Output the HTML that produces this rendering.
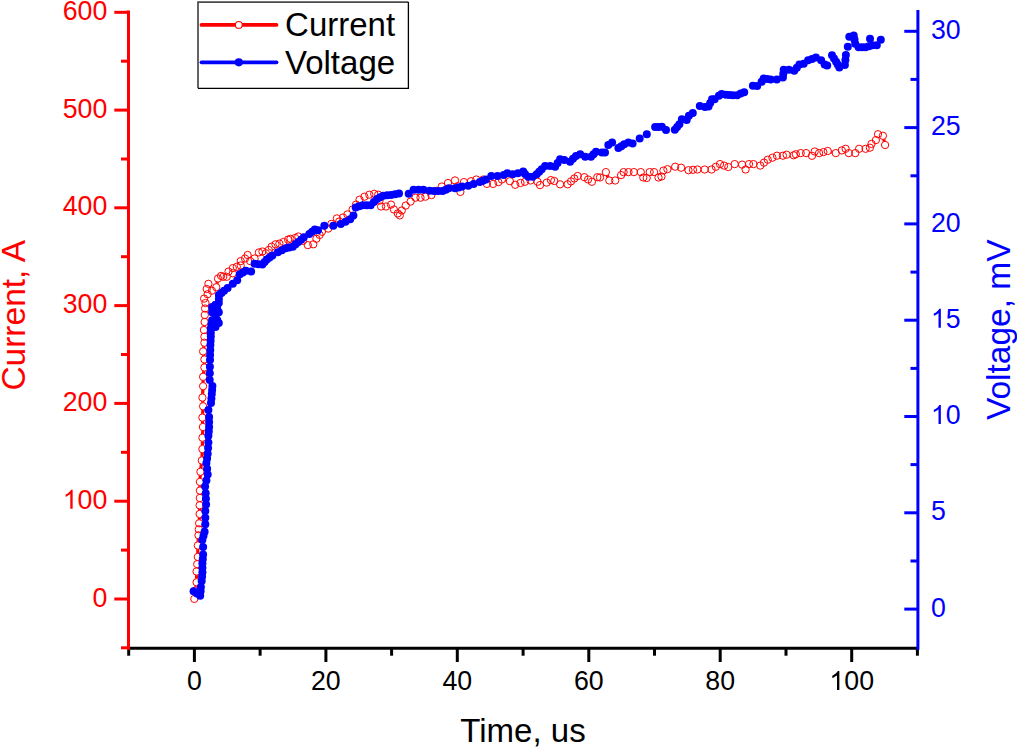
<!DOCTYPE html>
<html><head><meta charset="utf-8"><style>
html,body{margin:0;padding:0;background:#fff;}
body{width:1017px;height:747px;overflow:hidden;}
svg{display:block;font-family:"Liberation Sans",sans-serif;}
</style></head><body>
<svg width="1017" height="747" viewBox="0 0 1017 747">
<rect width="1017" height="747" fill="#fff"/>
<defs><mask id="rm" maskUnits="userSpaceOnUse" x="0" y="0" width="1017" height="747"><rect width="1017" height="747" fill="#fff"/><g fill="#000"><circle cx="194.3" cy="598.9" r="3.75"/><circle cx="195.4" cy="590.6" r="3.75"/><circle cx="196.6" cy="582.3" r="3.75"/><circle cx="196.6" cy="571.5" r="3.75"/><circle cx="197.2" cy="564.2" r="3.75"/><circle cx="197.8" cy="556.9" r="3.75"/><circle cx="197.8" cy="545.5" r="3.75"/><circle cx="198.5" cy="535.3" r="3.75"/><circle cx="198.8" cy="529.3" r="3.75"/><circle cx="199.1" cy="523.3" r="3.75"/><circle cx="199.6" cy="514" r="3.75"/><circle cx="199.6" cy="505.3" r="3.75"/><circle cx="199.8" cy="498" r="3.75"/><circle cx="199.9" cy="490.6" r="3.75"/><circle cx="199.9" cy="481.9" r="3.75"/><circle cx="200.4" cy="471.8" r="3.75"/><circle cx="201.8" cy="460.5" r="3.75"/><circle cx="202.4" cy="449.1" r="3.75"/><circle cx="202.4" cy="437.7" r="3.75"/><circle cx="202.9" cy="427" r="3.75"/><circle cx="202.4" cy="417.6" r="3.75"/><circle cx="203.1" cy="406.3" r="3.75"/><circle cx="202.4" cy="397.6" r="3.75"/><circle cx="203.1" cy="386.2" r="3.75"/><circle cx="203.1" cy="376.8" r="3.75"/><circle cx="204.4" cy="367.5" r="3.75"/><circle cx="204.4" cy="359.4" r="3.75"/><circle cx="203.1" cy="351.4" r="3.75"/><circle cx="204.4" cy="342.7" r="3.75"/><circle cx="204.4" cy="336.7" r="3.75"/><circle cx="203.9" cy="330" r="3.75"/><circle cx="204.6" cy="322" r="3.75"/><circle cx="204.8" cy="315" r="3.75"/><circle cx="205.1" cy="308.5" r="3.75"/><circle cx="205.5" cy="303" r="3.75"/><circle cx="204.1" cy="298.6" r="3.75"/><circle cx="207.6" cy="294.2" r="3.75"/><circle cx="206.7" cy="289" r="3.75"/><circle cx="208.4" cy="283.8" r="3.75"/><circle cx="211.9" cy="290.7" r="3.75"/><circle cx="216.3" cy="287.2" r="3.75"/><circle cx="218" cy="278.5" r="3.75"/><circle cx="221.1" cy="275.9" r="3.75"/><circle cx="223.2" cy="276.8" r="3.75"/><circle cx="226.7" cy="276.8" r="3.75"/><circle cx="228.5" cy="271.6" r="3.75"/><circle cx="232.8" cy="273.3" r="3.75"/><circle cx="232.8" cy="268.1" r="3.75"/><circle cx="236.8" cy="266.8" r="3.75"/><circle cx="240.7" cy="265.5" r="3.75"/><circle cx="240.7" cy="261.1" r="3.75"/><circle cx="245" cy="258.5" r="3.75"/><circle cx="247.6" cy="255" r="3.75"/><circle cx="250.2" cy="261.1" r="3.75"/><circle cx="254.6" cy="258.5" r="3.75"/><circle cx="258.9" cy="252.4" r="3.75"/><circle cx="262.4" cy="251.5" r="3.75"/><circle cx="265.9" cy="253.3" r="3.75"/><circle cx="268.8" cy="250" r="3.75"/><circle cx="271.6" cy="246.7" r="3.75"/><circle cx="275.5" cy="244.3" r="3.75"/><circle cx="279.4" cy="243.6" r="3.75"/><circle cx="283.4" cy="242" r="3.75"/><circle cx="288.1" cy="239.6" r="3.75"/><circle cx="290.5" cy="238.8" r="3.75"/><circle cx="295.2" cy="238" r="3.75"/><circle cx="298.3" cy="236.5" r="3.75"/><circle cx="303" cy="240.8" r="3.75"/><circle cx="307.8" cy="245.1" r="3.75"/><circle cx="313.3" cy="244.3" r="3.75"/><circle cx="316.4" cy="238.8" r="3.75"/><circle cx="319.6" cy="234.9" r="3.75"/><circle cx="321.9" cy="231.8" r="3.75"/><circle cx="328.2" cy="228.6" r="3.75"/><circle cx="331.4" cy="223.9" r="3.75"/><circle cx="336.9" cy="218.4" r="3.75"/><circle cx="339.2" cy="221.5" r="3.75"/><circle cx="343" cy="217.5" r="3.75"/><circle cx="347.4" cy="214.4" r="3.75"/><circle cx="352.6" cy="209.5" r="3.75"/><circle cx="356" cy="204.6" r="3.75"/><circle cx="359.5" cy="199.7" r="3.75"/><circle cx="364.4" cy="196.7" r="3.75"/><circle cx="369.3" cy="194.7" r="3.75"/><circle cx="374.2" cy="193.8" r="3.75"/><circle cx="378.2" cy="194.7" r="3.75"/><circle cx="379.6" cy="200.6" r="3.75"/><circle cx="381.1" cy="206.5" r="3.75"/><circle cx="386" cy="206.5" r="3.75"/><circle cx="391" cy="204.6" r="3.75"/><circle cx="393.9" cy="209.5" r="3.75"/><circle cx="397.8" cy="213.4" r="3.75"/><circle cx="399.8" cy="215.4" r="3.75"/><circle cx="401.8" cy="210.5" r="3.75"/><circle cx="405.7" cy="205.6" r="3.75"/><circle cx="410.6" cy="201.6" r="3.75"/><circle cx="415.5" cy="197.7" r="3.75"/><circle cx="420.5" cy="197.7" r="3.75"/><circle cx="425.4" cy="196.7" r="3.75"/><circle cx="431.4" cy="195.1" r="3.75"/><circle cx="436.5" cy="190.8" r="3.75"/><circle cx="441.8" cy="186.5" r="3.75"/><circle cx="448" cy="183" r="3.75"/><circle cx="455" cy="180.4" r="3.75"/><circle cx="457.7" cy="186.2" r="3.75"/><circle cx="460.4" cy="191.9" r="3.75"/><circle cx="463.9" cy="182.1" r="3.75"/><circle cx="471" cy="181.2" r="3.75"/><circle cx="476.3" cy="179.5" r="3.75"/><circle cx="483.4" cy="179.5" r="3.75"/><circle cx="486.9" cy="183.9" r="3.75"/><circle cx="493.1" cy="183.9" r="3.75"/><circle cx="498.4" cy="182.1" r="3.75"/><circle cx="501.9" cy="179.5" r="3.75"/><circle cx="509.9" cy="181.2" r="3.75"/><circle cx="515.2" cy="184.8" r="3.75"/><circle cx="520.5" cy="183" r="3.75"/><circle cx="525" cy="181.8" r="3.75"/><circle cx="530.5" cy="180.5" r="3.75"/><circle cx="537.5" cy="181.8" r="3.75"/><circle cx="540" cy="185.1" r="3.75"/><circle cx="546.7" cy="182.6" r="3.75"/><circle cx="550.9" cy="180.1" r="3.75"/><circle cx="554.3" cy="181" r="3.75"/><circle cx="560.1" cy="184.3" r="3.75"/><circle cx="567.6" cy="184.3" r="3.75"/><circle cx="571" cy="181.4" r="3.75"/><circle cx="574.3" cy="178.5" r="3.75"/><circle cx="577.7" cy="176" r="3.75"/><circle cx="584.3" cy="177.2" r="3.75"/><circle cx="588.1" cy="179.5" r="3.75"/><circle cx="591.9" cy="181.8" r="3.75"/><circle cx="597.3" cy="177.2" r="3.75"/><circle cx="600" cy="177.5" r="3.75"/><circle cx="605.9" cy="172.1" r="3.75"/><circle cx="609.3" cy="180.5" r="3.75"/><circle cx="615.2" cy="180.5" r="3.75"/><circle cx="621.1" cy="175.1" r="3.75"/><circle cx="623.6" cy="172.1" r="3.75"/><circle cx="628.5" cy="172.1" r="3.75"/><circle cx="633.9" cy="172.1" r="3.75"/><circle cx="640.8" cy="172.1" r="3.75"/><circle cx="643.3" cy="177.5" r="3.75"/><circle cx="646.7" cy="178" r="3.75"/><circle cx="649.7" cy="172.1" r="3.75"/><circle cx="654.1" cy="172.1" r="3.75"/><circle cx="658.5" cy="177.5" r="3.75"/><circle cx="661.5" cy="176.5" r="3.75"/><circle cx="663.4" cy="170.6" r="3.75"/><circle cx="667.4" cy="169.2" r="3.75"/><circle cx="675.2" cy="166.7" r="3.75"/><circle cx="681.1" cy="167.7" r="3.75"/><circle cx="688.5" cy="170.2" r="3.75"/><circle cx="693" cy="169.8" r="3.75"/><circle cx="697.4" cy="169.5" r="3.75"/><circle cx="704.7" cy="169.5" r="3.75"/><circle cx="711.6" cy="169.5" r="3.75"/><circle cx="715.8" cy="166.8" r="3.75"/><circle cx="720" cy="164.1" r="3.75"/><circle cx="724.1" cy="165.6" r="3.75"/><circle cx="728.3" cy="167" r="3.75"/><circle cx="734.7" cy="164.1" r="3.75"/><circle cx="742.1" cy="164.6" r="3.75"/><circle cx="745.6" cy="169.5" r="3.75"/><circle cx="749" cy="164.1" r="3.75"/><circle cx="753.4" cy="164.1" r="3.75"/><circle cx="760.3" cy="165.6" r="3.75"/><circle cx="764" cy="162.6" r="3.75"/><circle cx="767.7" cy="159.7" r="3.75"/><circle cx="772.4" cy="157.7" r="3.75"/><circle cx="777" cy="155.7" r="3.75"/><circle cx="782.9" cy="155.7" r="3.75"/><circle cx="786.6" cy="154.7" r="3.75"/><circle cx="793.7" cy="155.3" r="3.75"/><circle cx="795.8" cy="154.2" r="3.75"/><circle cx="800.7" cy="153.1" r="3.75"/><circle cx="806.1" cy="153.1" r="3.75"/><circle cx="812" cy="155.8" r="3.75"/><circle cx="814.7" cy="151.5" r="3.75"/><circle cx="819.1" cy="153.1" r="3.75"/><circle cx="823.4" cy="152.1" r="3.75"/><circle cx="827.7" cy="151" r="3.75"/><circle cx="835.8" cy="153.1" r="3.75"/><circle cx="841.8" cy="150.4" r="3.75"/><circle cx="845.6" cy="148.8" r="3.75"/><circle cx="848.8" cy="153.1" r="3.75"/><circle cx="855.3" cy="153.1" r="3.75"/><circle cx="859.1" cy="148.8" r="3.75"/><circle cx="865.6" cy="148.8" r="3.75"/><circle cx="869.9" cy="147.7" r="3.75"/><circle cx="871.5" cy="143.9" r="3.75"/><circle cx="875.9" cy="140.1" r="3.75"/><circle cx="878" cy="134.2" r="3.75"/><circle cx="882.9" cy="135.8" r="3.75"/><circle cx="885.1" cy="145" r="3.75"/></g></mask></defs>
<g fill="none" stroke="#ff0000" stroke-width="3.2" stroke-linejoin="round" mask="url(#rm)"><path d="M194.3 598.9 L196.6 582.3 L196.6 571.5 L197.8 556.9 L197.8 545.5 L198.5 535.3 L199.1 523.3 L199.6 514 L199.6 505.3 L199.9 490.6 L199.9 481.9 L200.4 471.8 L201.8 460.5 L202.4 449.1 L202.4 437.7 L202.9 427 L202.4 417.6 L203.1 406.3 L202.4 397.6 L203.1 386.2 L203.1 376.8 L204.4 367.5 L204.4 359.4 L203.1 351.4 L204.4 342.7 L204.4 336.7 L203.9 330 L204.6 322 L204.8 315 L205.1 308.5 L205.5 303 L204.1 298.6 L207.6 294.2 L206.7 289 L208.4 283.8 L211.9 290.7 L216.3 287.2 L218 278.5 L221.1 275.9 L223.2 276.8 L226.7 276.8 L228.5 271.6 L232.8 273.3 L232.8 268.1 L236.8 266.8 L240.7 265.5 L240.7 261.1 L245 258.5 L247.6 255 L250.2 261.1 L254.6 258.5 L258.9 252.4 L262.4 251.5 L265.9 253.3 L271.6 246.7 L275.5 244.3 L279.4 243.6 L283.4 242 L288.1 239.6 L290.5 238.8 L295.2 238 L298.3 236.5 L303 240.8 L307.8 245.1 L313.3 244.3 L316.4 238.8 L319.6 234.9 L321.9 231.8 L328.2 228.6 L331.4 223.9 L336.9 218.4 L339.2 221.5 L343 217.5 L347.4 214.4 L352.6 209.5 L356 204.6 L359.5 199.7 L364.4 196.7 L369.3 194.7 L374.2 193.8 L378.2 194.7 L381.1 206.5 L386 206.5 L391 204.6 L393.9 209.5 L397.8 213.4 L399.8 215.4 L401.8 210.5 L405.7 205.6 L410.6 201.6 L415.5 197.7 L420.5 197.7 L425.4 196.7 L431.4 195.1 L436.5 190.8 L441.8 186.5 L448 183 L455 180.4 L460.4 191.9 L463.9 182.1 L471 181.2 L476.3 179.5 L483.4 179.5 L486.9 183.9 L493.1 183.9 L498.4 182.1 L501.9 179.5 L509.9 181.2 L515.2 184.8 L520.5 183 L525 181.8 L530.5 180.5 L537.5 181.8 L540 185.1 L546.7 182.6 L550.9 180.1 L554.3 181 L560.1 184.3 L567.6 184.3 L574.3 178.5 L577.7 176 L584.3 177.2 L591.9 181.8 L597.3 177.2 L600 177.5 L605.9 172.1 L609.3 180.5 L615.2 180.5 L621.1 175.1 L623.6 172.1 L628.5 172.1 L633.9 172.1 L640.8 172.1 L643.3 177.5 L646.7 178 L649.7 172.1 L654.1 172.1 L658.5 177.5 L661.5 176.5 L663.4 170.6 L667.4 169.2 L675.2 166.7 L681.1 167.7 L688.5 170.2 L697.4 169.5 L704.7 169.5 L711.6 169.5 L720 164.1 L728.3 167 L734.7 164.1 L742.1 164.6 L745.6 169.5 L749 164.1 L753.4 164.1 L760.3 165.6 L767.7 159.7 L777 155.7 L782.9 155.7 L786.6 154.7 L793.7 155.3 L795.8 154.2 L800.7 153.1 L806.1 153.1 L812 155.8 L814.7 151.5 L819.1 153.1 L827.7 151 L835.8 153.1 L841.8 150.4 L845.6 148.8 L848.8 153.1 L855.3 153.1 L859.1 148.8 L865.6 148.8 L869.9 147.7 L871.5 143.9 L875.9 140.1 L878 134.2 L882.9 135.8 L885.1 145"/></g>
<g fill="none" stroke="#ff0000" stroke-width="1"><circle cx="194.3" cy="598.9" r="3.65"/><circle cx="195.4" cy="590.6" r="3.65"/><circle cx="196.6" cy="582.3" r="3.65"/><circle cx="196.6" cy="571.5" r="3.65"/><circle cx="197.2" cy="564.2" r="3.65"/><circle cx="197.8" cy="556.9" r="3.65"/><circle cx="197.8" cy="545.5" r="3.65"/><circle cx="198.5" cy="535.3" r="3.65"/><circle cx="198.8" cy="529.3" r="3.65"/><circle cx="199.1" cy="523.3" r="3.65"/><circle cx="199.6" cy="514" r="3.65"/><circle cx="199.6" cy="505.3" r="3.65"/><circle cx="199.8" cy="498" r="3.65"/><circle cx="199.9" cy="490.6" r="3.65"/><circle cx="199.9" cy="481.9" r="3.65"/><circle cx="200.4" cy="471.8" r="3.65"/><circle cx="201.8" cy="460.5" r="3.65"/><circle cx="202.4" cy="449.1" r="3.65"/><circle cx="202.4" cy="437.7" r="3.65"/><circle cx="202.9" cy="427" r="3.65"/><circle cx="202.4" cy="417.6" r="3.65"/><circle cx="203.1" cy="406.3" r="3.65"/><circle cx="202.4" cy="397.6" r="3.65"/><circle cx="203.1" cy="386.2" r="3.65"/><circle cx="203.1" cy="376.8" r="3.65"/><circle cx="204.4" cy="367.5" r="3.65"/><circle cx="204.4" cy="359.4" r="3.65"/><circle cx="203.1" cy="351.4" r="3.65"/><circle cx="204.4" cy="342.7" r="3.65"/><circle cx="204.4" cy="336.7" r="3.65"/><circle cx="203.9" cy="330" r="3.65"/><circle cx="204.6" cy="322" r="3.65"/><circle cx="204.8" cy="315" r="3.65"/><circle cx="205.1" cy="308.5" r="3.65"/><circle cx="205.5" cy="303" r="3.65"/><circle cx="204.1" cy="298.6" r="3.65"/><circle cx="207.6" cy="294.2" r="3.65"/><circle cx="206.7" cy="289" r="3.65"/><circle cx="208.4" cy="283.8" r="3.65"/><circle cx="211.9" cy="290.7" r="3.65"/><circle cx="216.3" cy="287.2" r="3.65"/><circle cx="218" cy="278.5" r="3.65"/><circle cx="221.1" cy="275.9" r="3.65"/><circle cx="223.2" cy="276.8" r="3.65"/><circle cx="226.7" cy="276.8" r="3.65"/><circle cx="228.5" cy="271.6" r="3.65"/><circle cx="232.8" cy="273.3" r="3.65"/><circle cx="232.8" cy="268.1" r="3.65"/><circle cx="236.8" cy="266.8" r="3.65"/><circle cx="240.7" cy="265.5" r="3.65"/><circle cx="240.7" cy="261.1" r="3.65"/><circle cx="245" cy="258.5" r="3.65"/><circle cx="247.6" cy="255" r="3.65"/><circle cx="250.2" cy="261.1" r="3.65"/><circle cx="254.6" cy="258.5" r="3.65"/><circle cx="258.9" cy="252.4" r="3.65"/><circle cx="262.4" cy="251.5" r="3.65"/><circle cx="265.9" cy="253.3" r="3.65"/><circle cx="268.8" cy="250" r="3.65"/><circle cx="271.6" cy="246.7" r="3.65"/><circle cx="275.5" cy="244.3" r="3.65"/><circle cx="279.4" cy="243.6" r="3.65"/><circle cx="283.4" cy="242" r="3.65"/><circle cx="288.1" cy="239.6" r="3.65"/><circle cx="290.5" cy="238.8" r="3.65"/><circle cx="295.2" cy="238" r="3.65"/><circle cx="298.3" cy="236.5" r="3.65"/><circle cx="303" cy="240.8" r="3.65"/><circle cx="307.8" cy="245.1" r="3.65"/><circle cx="313.3" cy="244.3" r="3.65"/><circle cx="316.4" cy="238.8" r="3.65"/><circle cx="319.6" cy="234.9" r="3.65"/><circle cx="321.9" cy="231.8" r="3.65"/><circle cx="328.2" cy="228.6" r="3.65"/><circle cx="331.4" cy="223.9" r="3.65"/><circle cx="336.9" cy="218.4" r="3.65"/><circle cx="339.2" cy="221.5" r="3.65"/><circle cx="343" cy="217.5" r="3.65"/><circle cx="347.4" cy="214.4" r="3.65"/><circle cx="352.6" cy="209.5" r="3.65"/><circle cx="356" cy="204.6" r="3.65"/><circle cx="359.5" cy="199.7" r="3.65"/><circle cx="364.4" cy="196.7" r="3.65"/><circle cx="369.3" cy="194.7" r="3.65"/><circle cx="374.2" cy="193.8" r="3.65"/><circle cx="378.2" cy="194.7" r="3.65"/><circle cx="379.6" cy="200.6" r="3.65"/><circle cx="381.1" cy="206.5" r="3.65"/><circle cx="386" cy="206.5" r="3.65"/><circle cx="391" cy="204.6" r="3.65"/><circle cx="393.9" cy="209.5" r="3.65"/><circle cx="397.8" cy="213.4" r="3.65"/><circle cx="399.8" cy="215.4" r="3.65"/><circle cx="401.8" cy="210.5" r="3.65"/><circle cx="405.7" cy="205.6" r="3.65"/><circle cx="410.6" cy="201.6" r="3.65"/><circle cx="415.5" cy="197.7" r="3.65"/><circle cx="420.5" cy="197.7" r="3.65"/><circle cx="425.4" cy="196.7" r="3.65"/><circle cx="431.4" cy="195.1" r="3.65"/><circle cx="436.5" cy="190.8" r="3.65"/><circle cx="441.8" cy="186.5" r="3.65"/><circle cx="448" cy="183" r="3.65"/><circle cx="455" cy="180.4" r="3.65"/><circle cx="457.7" cy="186.2" r="3.65"/><circle cx="460.4" cy="191.9" r="3.65"/><circle cx="463.9" cy="182.1" r="3.65"/><circle cx="471" cy="181.2" r="3.65"/><circle cx="476.3" cy="179.5" r="3.65"/><circle cx="483.4" cy="179.5" r="3.65"/><circle cx="486.9" cy="183.9" r="3.65"/><circle cx="493.1" cy="183.9" r="3.65"/><circle cx="498.4" cy="182.1" r="3.65"/><circle cx="501.9" cy="179.5" r="3.65"/><circle cx="509.9" cy="181.2" r="3.65"/><circle cx="515.2" cy="184.8" r="3.65"/><circle cx="520.5" cy="183" r="3.65"/><circle cx="525" cy="181.8" r="3.65"/><circle cx="530.5" cy="180.5" r="3.65"/><circle cx="537.5" cy="181.8" r="3.65"/><circle cx="540" cy="185.1" r="3.65"/><circle cx="546.7" cy="182.6" r="3.65"/><circle cx="550.9" cy="180.1" r="3.65"/><circle cx="554.3" cy="181" r="3.65"/><circle cx="560.1" cy="184.3" r="3.65"/><circle cx="567.6" cy="184.3" r="3.65"/><circle cx="571" cy="181.4" r="3.65"/><circle cx="574.3" cy="178.5" r="3.65"/><circle cx="577.7" cy="176" r="3.65"/><circle cx="584.3" cy="177.2" r="3.65"/><circle cx="588.1" cy="179.5" r="3.65"/><circle cx="591.9" cy="181.8" r="3.65"/><circle cx="597.3" cy="177.2" r="3.65"/><circle cx="600" cy="177.5" r="3.65"/><circle cx="605.9" cy="172.1" r="3.65"/><circle cx="609.3" cy="180.5" r="3.65"/><circle cx="615.2" cy="180.5" r="3.65"/><circle cx="621.1" cy="175.1" r="3.65"/><circle cx="623.6" cy="172.1" r="3.65"/><circle cx="628.5" cy="172.1" r="3.65"/><circle cx="633.9" cy="172.1" r="3.65"/><circle cx="640.8" cy="172.1" r="3.65"/><circle cx="643.3" cy="177.5" r="3.65"/><circle cx="646.7" cy="178" r="3.65"/><circle cx="649.7" cy="172.1" r="3.65"/><circle cx="654.1" cy="172.1" r="3.65"/><circle cx="658.5" cy="177.5" r="3.65"/><circle cx="661.5" cy="176.5" r="3.65"/><circle cx="663.4" cy="170.6" r="3.65"/><circle cx="667.4" cy="169.2" r="3.65"/><circle cx="675.2" cy="166.7" r="3.65"/><circle cx="681.1" cy="167.7" r="3.65"/><circle cx="688.5" cy="170.2" r="3.65"/><circle cx="693" cy="169.8" r="3.65"/><circle cx="697.4" cy="169.5" r="3.65"/><circle cx="704.7" cy="169.5" r="3.65"/><circle cx="711.6" cy="169.5" r="3.65"/><circle cx="715.8" cy="166.8" r="3.65"/><circle cx="720" cy="164.1" r="3.65"/><circle cx="724.1" cy="165.6" r="3.65"/><circle cx="728.3" cy="167" r="3.65"/><circle cx="734.7" cy="164.1" r="3.65"/><circle cx="742.1" cy="164.6" r="3.65"/><circle cx="745.6" cy="169.5" r="3.65"/><circle cx="749" cy="164.1" r="3.65"/><circle cx="753.4" cy="164.1" r="3.65"/><circle cx="760.3" cy="165.6" r="3.65"/><circle cx="764" cy="162.6" r="3.65"/><circle cx="767.7" cy="159.7" r="3.65"/><circle cx="772.4" cy="157.7" r="3.65"/><circle cx="777" cy="155.7" r="3.65"/><circle cx="782.9" cy="155.7" r="3.65"/><circle cx="786.6" cy="154.7" r="3.65"/><circle cx="793.7" cy="155.3" r="3.65"/><circle cx="795.8" cy="154.2" r="3.65"/><circle cx="800.7" cy="153.1" r="3.65"/><circle cx="806.1" cy="153.1" r="3.65"/><circle cx="812" cy="155.8" r="3.65"/><circle cx="814.7" cy="151.5" r="3.65"/><circle cx="819.1" cy="153.1" r="3.65"/><circle cx="823.4" cy="152.1" r="3.65"/><circle cx="827.7" cy="151" r="3.65"/><circle cx="835.8" cy="153.1" r="3.65"/><circle cx="841.8" cy="150.4" r="3.65"/><circle cx="845.6" cy="148.8" r="3.65"/><circle cx="848.8" cy="153.1" r="3.65"/><circle cx="855.3" cy="153.1" r="3.65"/><circle cx="859.1" cy="148.8" r="3.65"/><circle cx="865.6" cy="148.8" r="3.65"/><circle cx="869.9" cy="147.7" r="3.65"/><circle cx="871.5" cy="143.9" r="3.65"/><circle cx="875.9" cy="140.1" r="3.65"/><circle cx="878" cy="134.2" r="3.65"/><circle cx="882.9" cy="135.8" r="3.65"/><circle cx="885.1" cy="145" r="3.65"/></g>
<path d="M193.6 591.3 L197 593.5 L200.2 595.7 L200.9 586.9 L201.7 581 L202.4 572.2 L202.4 563.3 L203.1 554.5 L203.1 547.1 L202.4 539.8 L204.6 531.7 L205.3 524.3 L205.3 517.7 L205.3 511 L206.1 504.4 L205.7 493.2 L205.1 486.5 L207.7 474.5 L206.4 463.1 L207.7 453.8 L208.4 442.4 L208.4 435.7 L209.1 427 L209.1 417 L208.4 410 L211 403 L211.8 394 L212.4 386 L209.7 380 L210 360 L210.4 345 L210.8 336.4 L210.8 328.4 L212.1 320.3 L215.5 327 L218.8 323 L215.5 317 L212.1 312.3 L215.5 309 L218.8 312.3 L215.5 305 L212.1 306.9 L218.8 302.9 L218.9 295.1 L224.1 290.7 L227.6 288.1 M232.8 283.8 L237.2 280.3 L239.8 274.2 L245.9 270.7 L251.1 271.6 M254.6 263.7 L258.5 264.2 L262.4 264.6 L266.8 259.4 L272.4 255.4 L277.9 252.2 L285.7 248.3 L292.8 246.7 L298.3 242 L303.8 237.3 L309.3 234.1 L314.8 229.4 L318 230.2 M340.8 224.1 L345.5 221.7 L350.2 219.3 L353.4 215.4 M355.7 207.5 L362.8 205.2 L370.7 205.2 L377 198.9 L383.3 195.7 L391.1 194.9 L399 193.4 M408.7 193.8 L413.6 189.8 L423.4 189.8 L429.6 190.7 L438.5 191.1 L442.7 191 L448.8 188.3 L455 188.3 L462.1 186.5 L468.3 185.7 L473.6 183.9 L479.8 182.1 L486 179.5 L491.3 175.9 L497.5 175.9 L503.7 175 L507.3 173.3 L512.6 174.2 L517.9 173.3 L523.2 171.5 L525 174 L528.3 176.8 L532.5 176.8 L536.7 174.3 L541.7 169.3 L545.1 165.9 L550.1 165.9 L555.1 166.8 L560.1 159.2 L564.3 160.1 L570.1 161.7 L576 155.9 L580.2 154.2 L585.2 156.7 L591 156.7 L596 151.7 L601.9 152.6 L605 152.6 M608.3 145.1 L612.1 142.6 M618.4 148 L624.2 144.3 L628.4 142.6 L632.6 143.4 M655.1 127.1 L661.8 126.7 L666 130.1 M674.8 129.7 L679.4 124.2 L681.9 119.2 L686.7 120.1 L688.9 115.7 L692.8 113.1 M699.8 106.1 L705 107 L708.5 106.6 L712 99.2 L714.6 99.2 L718.9 95.7 L721.6 93.9 L725.9 94.8 L732.9 95.2 L737.2 95.2 L740.7 93.5 L744.2 92.2 M752.9 85.7 L757.2 86.1 L761.6 81.8 L763.7 78.5 L770.7 79.4 L776.8 79.4 L782.9 77.6 L783.7 69.8 L788.9 69.8 L794.2 70.7 L799.4 64.6 L803.7 63.7 L808.1 60.2 L815.9 57.6 L821.1 60.2 L824.6 64.6 L827.2 65.5 M832 55.3 L836.1 61.7 L839.3 67.4 L844.9 65 L845.9 55 M849.3 36.8 L853.7 35.4 L855.2 43.7 L858.6 47.2 L862 47.2 L865.5 47.2 L869 46.2 L872.4 45.2 L876.8 45.2" fill="none" stroke="#0000ff" stroke-width="1.5"/>
<g fill="#0000ff"><circle cx="193.6" cy="591.3" r="4.0"/><circle cx="197" cy="593.5" r="4.0"/><circle cx="200.2" cy="595.7" r="4.0"/><circle cx="200.6" cy="591.3" r="4.0"/><circle cx="200.9" cy="586.9" r="4.0"/><circle cx="201.7" cy="581" r="4.0"/><circle cx="202.1" cy="576.6" r="4.0"/><circle cx="202.4" cy="572.2" r="4.0"/><circle cx="202.4" cy="567.8" r="4.0"/><circle cx="202.4" cy="563.3" r="4.0"/><circle cx="202.8" cy="558.9" r="4.0"/><circle cx="203.1" cy="554.5" r="4.0"/><circle cx="203.1" cy="547.1" r="4.0"/><circle cx="202.4" cy="539.8" r="4.0"/><circle cx="203.5" cy="535.8" r="4.0"/><circle cx="204.6" cy="531.7" r="4.0"/><circle cx="205.3" cy="524.3" r="4.0"/><circle cx="205.3" cy="517.7" r="4.0"/><circle cx="205.3" cy="511" r="4.0"/><circle cx="206.1" cy="504.4" r="4.0"/><circle cx="205.9" cy="498.8" r="4.0"/><circle cx="205.7" cy="493.2" r="4.0"/><circle cx="205.1" cy="486.5" r="4.0"/><circle cx="206.4" cy="480.5" r="4.0"/><circle cx="207.7" cy="474.5" r="4.0"/><circle cx="207.1" cy="468.8" r="4.0"/><circle cx="206.4" cy="463.1" r="4.0"/><circle cx="207.1" cy="458.5" r="4.0"/><circle cx="207.7" cy="453.8" r="4.0"/><circle cx="208.1" cy="448.1" r="4.0"/><circle cx="208.4" cy="442.4" r="4.0"/><circle cx="208.4" cy="435.7" r="4.0"/><circle cx="208.8" cy="431.4" r="4.0"/><circle cx="209.1" cy="427" r="4.0"/><circle cx="209.1" cy="422" r="4.0"/><circle cx="209.1" cy="417" r="4.0"/><circle cx="208.4" cy="410" r="4.0"/><circle cx="211" cy="403" r="4.0"/><circle cx="211.4" cy="398.5" r="4.0"/><circle cx="211.8" cy="394" r="4.0"/><circle cx="212.1" cy="390" r="4.0"/><circle cx="212.4" cy="386" r="4.0"/><circle cx="209.7" cy="380" r="4.0"/><circle cx="209.8" cy="373.3" r="4.0"/><circle cx="209.9" cy="366.7" r="4.0"/><circle cx="210" cy="360" r="4.0"/><circle cx="210.1" cy="355" r="4.0"/><circle cx="210.3" cy="350" r="4.0"/><circle cx="210.4" cy="345" r="4.0"/><circle cx="210.6" cy="340.7" r="4.0"/><circle cx="210.8" cy="336.4" r="4.0"/><circle cx="210.8" cy="332.4" r="4.0"/><circle cx="210.8" cy="328.4" r="4.0"/><circle cx="211.4" cy="324.4" r="4.0"/><circle cx="212.1" cy="320.3" r="4.0"/><circle cx="213.8" cy="323.6" r="4.0"/><circle cx="215.5" cy="327" r="4.0"/><circle cx="218.8" cy="323" r="4.0"/><circle cx="217.2" cy="320" r="4.0"/><circle cx="215.5" cy="317" r="4.0"/><circle cx="212.1" cy="312.3" r="4.0"/><circle cx="215.5" cy="309" r="4.0"/><circle cx="218.8" cy="312.3" r="4.0"/><circle cx="217.2" cy="308.6" r="4.0"/><circle cx="215.5" cy="305" r="4.0"/><circle cx="212.1" cy="306.9" r="4.0"/><circle cx="215.4" cy="304.9" r="4.0"/><circle cx="218.8" cy="302.9" r="4.0"/><circle cx="218.9" cy="299" r="4.0"/><circle cx="218.9" cy="295.1" r="4.0"/><circle cx="221.5" cy="292.9" r="4.0"/><circle cx="224.1" cy="290.7" r="4.0"/><circle cx="227.6" cy="288.1" r="4.0"/><circle cx="232.8" cy="283.8" r="4.0"/><circle cx="237.2" cy="280.3" r="4.0"/><circle cx="239.8" cy="274.2" r="4.0"/><circle cx="242.9" cy="272.4" r="4.0"/><circle cx="245.9" cy="270.7" r="4.0"/><circle cx="251.1" cy="271.6" r="4.0"/><circle cx="254.6" cy="263.7" r="4.0"/><circle cx="258.5" cy="264.2" r="4.0"/><circle cx="262.4" cy="264.6" r="4.0"/><circle cx="264.6" cy="262" r="4.0"/><circle cx="266.8" cy="259.4" r="4.0"/><circle cx="269.6" cy="257.4" r="4.0"/><circle cx="272.4" cy="255.4" r="4.0"/><circle cx="277.9" cy="252.2" r="4.0"/><circle cx="281.8" cy="250.2" r="4.0"/><circle cx="285.7" cy="248.3" r="4.0"/><circle cx="289.2" cy="247.5" r="4.0"/><circle cx="292.8" cy="246.7" r="4.0"/><circle cx="295.6" cy="244.3" r="4.0"/><circle cx="298.3" cy="242" r="4.0"/><circle cx="301.1" cy="239.7" r="4.0"/><circle cx="303.8" cy="237.3" r="4.0"/><circle cx="309.3" cy="234.1" r="4.0"/><circle cx="312.1" cy="231.8" r="4.0"/><circle cx="314.8" cy="229.4" r="4.0"/><circle cx="318" cy="230.2" r="4.0"/><circle cx="324.3" cy="225.8" r="4.0"/><circle cx="333.3" cy="225.8" r="4.0"/><circle cx="340.8" cy="224.1" r="4.0"/><circle cx="345.5" cy="221.7" r="4.0"/><circle cx="350.2" cy="219.3" r="4.0"/><circle cx="353.4" cy="215.4" r="4.0"/><circle cx="355.7" cy="207.5" r="4.0"/><circle cx="359.2" cy="206.3" r="4.0"/><circle cx="362.8" cy="205.2" r="4.0"/><circle cx="366.8" cy="205.2" r="4.0"/><circle cx="370.7" cy="205.2" r="4.0"/><circle cx="373.9" cy="202.1" r="4.0"/><circle cx="377" cy="198.9" r="4.0"/><circle cx="380.1" cy="197.3" r="4.0"/><circle cx="383.3" cy="195.7" r="4.0"/><circle cx="387.2" cy="195.3" r="4.0"/><circle cx="391.1" cy="194.9" r="4.0"/><circle cx="395.1" cy="194.2" r="4.0"/><circle cx="399" cy="193.4" r="4.0"/><circle cx="408.7" cy="193.8" r="4.0"/><circle cx="413.6" cy="189.8" r="4.0"/><circle cx="418.5" cy="189.8" r="4.0"/><circle cx="423.4" cy="189.8" r="4.0"/><circle cx="429.6" cy="190.7" r="4.0"/><circle cx="434.1" cy="190.9" r="4.0"/><circle cx="438.5" cy="191.1" r="4.0"/><circle cx="442.7" cy="191" r="4.0"/><circle cx="445.8" cy="189.7" r="4.0"/><circle cx="448.8" cy="188.3" r="4.0"/><circle cx="455" cy="188.3" r="4.0"/><circle cx="458.6" cy="187.4" r="4.0"/><circle cx="462.1" cy="186.5" r="4.0"/><circle cx="468.3" cy="185.7" r="4.0"/><circle cx="473.6" cy="183.9" r="4.0"/><circle cx="479.8" cy="182.1" r="4.0"/><circle cx="482.9" cy="180.8" r="4.0"/><circle cx="486" cy="179.5" r="4.0"/><circle cx="491.3" cy="175.9" r="4.0"/><circle cx="497.5" cy="175.9" r="4.0"/><circle cx="503.7" cy="175" r="4.0"/><circle cx="507.3" cy="173.3" r="4.0"/><circle cx="512.6" cy="174.2" r="4.0"/><circle cx="517.9" cy="173.3" r="4.0"/><circle cx="523.2" cy="171.5" r="4.0"/><circle cx="525" cy="174" r="4.0"/><circle cx="528.3" cy="176.8" r="4.0"/><circle cx="532.5" cy="176.8" r="4.0"/><circle cx="536.7" cy="174.3" r="4.0"/><circle cx="539.2" cy="171.8" r="4.0"/><circle cx="541.7" cy="169.3" r="4.0"/><circle cx="545.1" cy="165.9" r="4.0"/><circle cx="550.1" cy="165.9" r="4.0"/><circle cx="555.1" cy="166.8" r="4.0"/><circle cx="557.6" cy="163" r="4.0"/><circle cx="560.1" cy="159.2" r="4.0"/><circle cx="564.3" cy="160.1" r="4.0"/><circle cx="570.1" cy="161.7" r="4.0"/><circle cx="573" cy="158.8" r="4.0"/><circle cx="576" cy="155.9" r="4.0"/><circle cx="580.2" cy="154.2" r="4.0"/><circle cx="585.2" cy="156.7" r="4.0"/><circle cx="591" cy="156.7" r="4.0"/><circle cx="593.5" cy="154.2" r="4.0"/><circle cx="596" cy="151.7" r="4.0"/><circle cx="601.9" cy="152.6" r="4.0"/><circle cx="605" cy="152.6" r="4.0"/><circle cx="608.3" cy="145.1" r="4.0"/><circle cx="612.1" cy="142.6" r="4.0"/><circle cx="618.4" cy="148" r="4.0"/><circle cx="621.3" cy="146.2" r="4.0"/><circle cx="624.2" cy="144.3" r="4.0"/><circle cx="628.4" cy="142.6" r="4.0"/><circle cx="632.6" cy="143.4" r="4.0"/><circle cx="639.7" cy="138.4" r="4.0"/><circle cx="646.8" cy="134.3" r="4.0"/><circle cx="655.1" cy="127.1" r="4.0"/><circle cx="658.5" cy="126.9" r="4.0"/><circle cx="661.8" cy="126.7" r="4.0"/><circle cx="666" cy="130.1" r="4.0"/><circle cx="674.8" cy="129.7" r="4.0"/><circle cx="677.1" cy="126.9" r="4.0"/><circle cx="679.4" cy="124.2" r="4.0"/><circle cx="681.9" cy="119.2" r="4.0"/><circle cx="686.7" cy="120.1" r="4.0"/><circle cx="688.9" cy="115.7" r="4.0"/><circle cx="692.8" cy="113.1" r="4.0"/><circle cx="699.8" cy="106.1" r="4.0"/><circle cx="705" cy="107" r="4.0"/><circle cx="708.5" cy="106.6" r="4.0"/><circle cx="710.2" cy="102.9" r="4.0"/><circle cx="712" cy="99.2" r="4.0"/><circle cx="714.6" cy="99.2" r="4.0"/><circle cx="718.9" cy="95.7" r="4.0"/><circle cx="721.6" cy="93.9" r="4.0"/><circle cx="725.9" cy="94.8" r="4.0"/><circle cx="729.4" cy="95" r="4.0"/><circle cx="732.9" cy="95.2" r="4.0"/><circle cx="737.2" cy="95.2" r="4.0"/><circle cx="740.7" cy="93.5" r="4.0"/><circle cx="744.2" cy="92.2" r="4.0"/><circle cx="752.9" cy="85.7" r="4.0"/><circle cx="757.2" cy="86.1" r="4.0"/><circle cx="761.6" cy="81.8" r="4.0"/><circle cx="763.7" cy="78.5" r="4.0"/><circle cx="767.2" cy="79" r="4.0"/><circle cx="770.7" cy="79.4" r="4.0"/><circle cx="776.8" cy="79.4" r="4.0"/><circle cx="782.9" cy="77.6" r="4.0"/><circle cx="783.3" cy="73.7" r="4.0"/><circle cx="783.7" cy="69.8" r="4.0"/><circle cx="788.9" cy="69.8" r="4.0"/><circle cx="794.2" cy="70.7" r="4.0"/><circle cx="796.8" cy="67.7" r="4.0"/><circle cx="799.4" cy="64.6" r="4.0"/><circle cx="803.7" cy="63.7" r="4.0"/><circle cx="808.1" cy="60.2" r="4.0"/><circle cx="812" cy="58.9" r="4.0"/><circle cx="815.9" cy="57.6" r="4.0"/><circle cx="821.1" cy="60.2" r="4.0"/><circle cx="824.6" cy="64.6" r="4.0"/><circle cx="827.2" cy="65.5" r="4.0"/><circle cx="832" cy="55.3" r="4.0"/><circle cx="834" cy="58.5" r="4.0"/><circle cx="836.1" cy="61.7" r="4.0"/><circle cx="837.7" cy="64.6" r="4.0"/><circle cx="839.3" cy="67.4" r="4.0"/><circle cx="844.9" cy="65" r="4.0"/><circle cx="845.4" cy="60" r="4.0"/><circle cx="845.9" cy="55" r="4.0"/><circle cx="847.8" cy="46.7" r="4.0"/><circle cx="849.3" cy="36.8" r="4.0"/><circle cx="853.7" cy="35.4" r="4.0"/><circle cx="854.5" cy="39.5" r="4.0"/><circle cx="855.2" cy="43.7" r="4.0"/><circle cx="858.6" cy="47.2" r="4.0"/><circle cx="862" cy="47.2" r="4.0"/><circle cx="865.5" cy="47.2" r="4.0"/><circle cx="869" cy="46.2" r="4.0"/><circle cx="872.4" cy="45.2" r="4.0"/><circle cx="876.8" cy="45.2" r="4.0"/><circle cx="870" cy="38.8" r="4.0"/><circle cx="880.8" cy="39.8" r="4.0"/></g>
<g stroke="#000" stroke-width="3">
<line x1="127" y1="648.3" x2="919" y2="648.3"/><line x1="194.4" y1="648.5" x2="194.4" y2="662"/><line x1="325.9" y1="648.5" x2="325.9" y2="662"/><line x1="457.3" y1="648.5" x2="457.3" y2="662"/><line x1="588.8" y1="648.5" x2="588.8" y2="662"/><line x1="720.2" y1="648.5" x2="720.2" y2="662"/><line x1="851.7" y1="648.5" x2="851.7" y2="662"/><line x1="128.7" y1="648.5" x2="128.7" y2="655.7"/><line x1="260.1" y1="648.5" x2="260.1" y2="655.7"/><line x1="391.6" y1="648.5" x2="391.6" y2="655.7"/><line x1="523.1" y1="648.5" x2="523.1" y2="655.7"/><line x1="654.5" y1="648.5" x2="654.5" y2="655.7"/><line x1="786" y1="648.5" x2="786" y2="655.7"/><line x1="917.4" y1="648.5" x2="917.4" y2="655.7"/></g>
<g stroke="#ff0000" stroke-width="3"><line x1="128.5" y1="10.4" x2="128.5" y2="649.7"/><line x1="114.3" y1="599" x2="128.5" y2="599"/><line x1="114.3" y1="501.2" x2="128.5" y2="501.2"/><line x1="114.3" y1="403.4" x2="128.5" y2="403.4"/><line x1="114.3" y1="305.6" x2="128.5" y2="305.6"/><line x1="114.3" y1="207.8" x2="128.5" y2="207.8"/><line x1="114.3" y1="110.1" x2="128.5" y2="110.1"/><line x1="114.3" y1="12.3" x2="128.5" y2="12.3"/><line x1="121" y1="647.8" x2="128.5" y2="647.8"/><line x1="121" y1="550.1" x2="128.5" y2="550.1"/><line x1="121" y1="452.3" x2="128.5" y2="452.3"/><line x1="121" y1="354.5" x2="128.5" y2="354.5"/><line x1="121" y1="256.7" x2="128.5" y2="256.7"/><line x1="121" y1="159" x2="128.5" y2="159"/><line x1="121" y1="61.2" x2="128.5" y2="61.2"/></g>
<g stroke="#0000ff" stroke-width="3"><line x1="917.9" y1="10" x2="917.9" y2="649.7"/><line x1="904.3" y1="609.1" x2="918" y2="609.1"/><line x1="904.3" y1="512.8" x2="918" y2="512.8"/><line x1="904.3" y1="416.5" x2="918" y2="416.5"/><line x1="904.3" y1="320.2" x2="918" y2="320.2"/><line x1="904.3" y1="223.9" x2="918" y2="223.9"/><line x1="904.3" y1="127.6" x2="918" y2="127.6"/><line x1="904.3" y1="31.3" x2="918" y2="31.3"/><line x1="910.5" y1="561" x2="918" y2="561"/><line x1="910.5" y1="464.6" x2="918" y2="464.6"/><line x1="910.5" y1="368.4" x2="918" y2="368.4"/><line x1="910.5" y1="272.1" x2="918" y2="272.1"/><line x1="910.5" y1="175.8" x2="918" y2="175.8"/><line x1="910.5" y1="79.4" x2="918" y2="79.4"/></g>
<g font-size="28" fill="#ff0000"><text transform="translate(92.43,606.56) scale(0.955,1)">0</text><path transform="translate(62.69,508.78) scale(0.013057,-0.012961)" d="M763,0 L583,0 L583,1147 Q518,1085 465,1054 Q412,1023 359,992 Q306,961 222,930 L222,1104 Q373,1175 429.5,1225.5 Q486,1276 542.5,1326.5 Q599,1377 646,1466 L763,1466 Z"/><text transform="translate(77.56,508.78) scale(0.955,1)">0</text><text transform="translate(92.43,508.78) scale(0.955,1)">0</text><text transform="translate(62.69,411) scale(0.955,1)">2</text><text transform="translate(77.56,411) scale(0.955,1)">0</text><text transform="translate(92.43,411) scale(0.955,1)">0</text><text transform="translate(62.69,313.22) scale(0.955,1)">3</text><text transform="translate(77.56,313.22) scale(0.955,1)">0</text><text transform="translate(92.43,313.22) scale(0.955,1)">0</text><text transform="translate(62.69,215.44) scale(0.955,1)">4</text><text transform="translate(77.56,215.44) scale(0.955,1)">0</text><text transform="translate(92.43,215.44) scale(0.955,1)">0</text><text transform="translate(62.69,117.66) scale(0.955,1)">5</text><text transform="translate(77.56,117.66) scale(0.955,1)">0</text><text transform="translate(92.43,117.66) scale(0.955,1)">0</text><text transform="translate(62.69,19.89) scale(0.955,1)">6</text><text transform="translate(77.56,19.89) scale(0.955,1)">0</text><text transform="translate(92.43,19.89) scale(0.955,1)">0</text></g>
<g font-size="28" fill="#000"><text transform="translate(186.96,690) scale(0.955,1)">0</text><text transform="translate(310.99,690) scale(0.955,1)">2</text><text transform="translate(325.86,690) scale(0.955,1)">0</text><text transform="translate(442.45,690) scale(0.955,1)">4</text><text transform="translate(457.32,690) scale(0.955,1)">0</text><text transform="translate(573.91,690) scale(0.955,1)">6</text><text transform="translate(588.78,690) scale(0.955,1)">0</text><text transform="translate(705.37,690) scale(0.955,1)">8</text><text transform="translate(720.24,690) scale(0.955,1)">0</text><path transform="translate(829.39,690) scale(0.013057,-0.012961)" d="M763,0 L583,0 L583,1147 Q518,1085 465,1054 Q412,1023 359,992 Q306,961 222,930 L222,1104 Q373,1175 429.5,1225.5 Q486,1276 542.5,1326.5 Q599,1377 646,1466 L763,1466 Z"/><text transform="translate(844.26,690) scale(0.955,1)">0</text><text transform="translate(859.14,690) scale(0.955,1)">0</text></g>
<g font-size="28" fill="#0000ff"><text transform="translate(930.9,616.7) scale(0.955,1)">0</text><text transform="translate(930.9,520.4) scale(0.955,1)">5</text><path transform="translate(930.9,424.1) scale(0.013057,-0.012961)" d="M763,0 L583,0 L583,1147 Q518,1085 465,1054 Q412,1023 359,992 Q306,961 222,930 L222,1104 Q373,1175 429.5,1225.5 Q486,1276 542.5,1326.5 Q599,1377 646,1466 L763,1466 Z"/><text transform="translate(945.77,424.1) scale(0.955,1)">0</text><path transform="translate(930.9,327.8) scale(0.013057,-0.012961)" d="M763,0 L583,0 L583,1147 Q518,1085 465,1054 Q412,1023 359,992 Q306,961 222,930 L222,1104 Q373,1175 429.5,1225.5 Q486,1276 542.5,1326.5 Q599,1377 646,1466 L763,1466 Z"/><text transform="translate(945.77,327.8) scale(0.955,1)">5</text><text transform="translate(930.9,231.5) scale(0.955,1)">2</text><text transform="translate(945.77,231.5) scale(0.955,1)">0</text><text transform="translate(930.9,135.2) scale(0.955,1)">2</text><text transform="translate(945.77,135.2) scale(0.955,1)">5</text><text transform="translate(930.9,38.9) scale(0.955,1)">3</text><text transform="translate(945.77,38.9) scale(0.955,1)">0</text></g>
<text x="523" y="741.5" font-size="33" text-anchor="middle" fill="#000">Time, us</text>
<text transform="translate(24.6,315.2) rotate(-90)" font-size="33.5" text-anchor="middle" fill="#ff0000">Current, A</text>
<text transform="translate(1010.2,329.8) rotate(-90)" font-size="33.5" text-anchor="middle" fill="#0000ff">Voltage, mV</text>
<rect x="198" y="2.1" width="210.4" height="86.2" fill="#fff"/>
<path d="M198 88.3 V2.1 H408.4" fill="none" stroke="#4a4a4a" stroke-width="1.7"/>
<path d="M408.4 2.1 V88.3 H198" fill="none" stroke="#000" stroke-width="1.3"/>
<line x1="201.5" y1="24.9" x2="276.5" y2="24.9" stroke="#ff0000" stroke-width="3.8" stroke-linecap="round"/>
<circle cx="238.8" cy="24.9" r="3.4" fill="#fff" stroke="#ff0000" stroke-width="1.1"/>
<line x1="201.5" y1="62.3" x2="276.5" y2="62.3" stroke="#0000ff" stroke-width="3.8" stroke-linecap="round"/>
<circle cx="238.8" cy="62.3" r="4.1" fill="#0000ff"/>
<text x="285.1" y="36.3" font-size="33" fill="#000">Current</text>
<text x="285" y="73.6" font-size="33" fill="#000">Voltage</text>
</svg>
</body></html>
